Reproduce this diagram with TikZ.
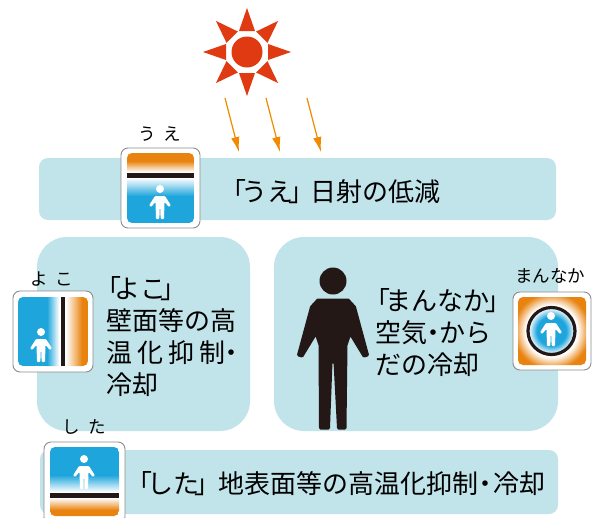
\documentclass[tikz,border=0pt]{standalone}
\usepackage{fontspec}
\setmainfont{Noto Sans CJK JP}
\usetikzlibrary{arrows.meta}
\definecolor{panelblue}{HTML}{C1E3EA}
\definecolor{iconorange}{HTML}{E8830F}
\definecolor{iconblue}{HTML}{1EA5DC}
\definecolor{iconblack}{HTML}{231815}
\definecolor{rayorange}{HTML}{F08A00}
\definecolor{sunred}{HTML}{E03A12}
\pgfdeclareradialshading{ringfade}{\pgfpoint{0bp}{0bp}}{color(0bp)=(white); color(13bp)=(white); color(19bp)=(iconorange); color(50bp)=(iconorange)}
\pgfdeclareradialshading{corefade}{\pgfpoint{0bp}{0bp}}{color(0bp)=(iconblue); color(16bp)=(iconblue); color(25bp)=(white); color(50bp)=(white)}
\newcommand{\smallperson}[2]{
   \fill[white] (#1,#2) circle (4);
   \fill[white,rounded corners=1pt] (#1-5,#2+7) -- (#1+5,#2+7) -- (#1+11,#2+16.5) -- (#1+9,#2+18)
      -- (#1+4.5,#2+13) -- (#1+4,#2+30) -- (#1+.6,#2+30) -- (#1+.3,#2+19) -- (#1-.3,#2+19)
      -- (#1-.6,#2+30) -- (#1-4,#2+30) -- (#1-4.5,#2+13) -- (#1-9,#2+18) -- (#1-11,#2+16.5) -- cycle;
}
\newcommand{\middot}[1]{\makebox[#1pt]{・}}
\tikzset{
   panel/.style={fill=panelblue, draw=none, inner sep=0pt},
   iconframe/.style={draw=gray!90, fill=white, line width=.9pt, rounded corners=7pt, inner sep=0pt, minimum width=78pt, minimum height=80pt},
   maintext/.style={font=\fontsize{26}{32.2}\selectfont, inner sep=0pt, align=left, text=black},
   smalltext/.style={font=\fontsize{17.5}{20}\selectfont, inner sep=0pt, text=black},
   rayarrow/.style={draw=rayorange, line width=1.2pt, -{Latex[length=15pt,width=8.5pt]}}
}
\begin{document}
\begin{tikzpicture}[x=1pt,y=-1pt]
   \clip (0,0) rectangle (597,517);

   \node[panel,minimum width=517pt,minimum height=62pt,rounded corners=9pt] (bandtop) at (297.5,189) {};
   \node[panel,minimum width=213pt,minimum height=194pt,rounded corners=30pt] (panelleft) at (143.5,334) {};
   \node[panel,minimum width=284pt,minimum height=194pt,rounded corners=30pt] (panelright) at (416,334) {};
   \node[panel,minimum width=518pt,minimum height=64pt,rounded corners=9pt] (bandbottom) at (299,482) {};

   % sun
   \fill[sunred] (247,52) circle (15.5);
   \foreach \a in {0,45,...,315}
      \fill[sunred,rotate around={\a:(247,52)}] (247+21,52-8) -- (247+44,52) -- (247+21,52+8) -- cycle;
   \foreach \n/\x in {a/225,b/266,c/307} {
      \coordinate (ray\n start) at (\x,98);
      \coordinate (ray\n end) at (\x+14,152);
      \draw[rayarrow] (ray\n start) -- (ray\n end);
   }

   % top icon
   \node[iconframe,minimum width=79pt] (iconup) at (160.5,188) {};
   \begin{scope}
      \clip[rounded corners=5pt] (127,153) rectangle (194,223);
      \fill[iconorange] (127,153) rectangle (194,161);
      \shade[top color=iconorange,bottom color=white] (127,161) rectangle (194,172);
      \fill[iconblack] (127,172.5) rectangle (194,177.5);
      \shade[top color=white,bottom color=iconblue] (127,178) rectangle (194,196);
      \fill[iconblue] (127,196) rectangle (194,223);
   \end{scope}
   \smallperson{160}{189}

   % left icon
   \node[iconframe,minimum width=80pt,minimum height=81pt] (iconside) at (53,331.5) {};
   \begin{scope}
      \clip[rounded corners=5pt] (18,297) rectangle (88,366);
      \fill[iconblue] (18,297) rectangle (47,366);
      \shade[left color=iconblue,right color=white] (47,297) rectangle (59,366);
      \fill[iconblack] (60.5,297) rectangle (65,366);
      \shade[left color=white,right color=iconorange] (66,297) rectangle (82,366);
      \fill[iconorange] (82,297) rectangle (88,366);
   \end{scope}
   \smallperson{41}{332}

   % right icon
   \node[iconframe,minimum height=78pt] (iconcore) at (552,331) {};
   \begin{scope}
      \clip[rounded corners=5pt] (518,297) rectangle (586,365);
      \shade[shading=ringfade] (551.5,331) circle (50);
   \end{scope}
   \shade[shading=corefade] (551.5,331) circle (23);
   \draw[iconblack,line width=3.2pt] (551.5,331) circle (23.5);
   \smallperson{551}{316}

   % bottom icon
   \node[iconframe,minimum width=81pt,minimum height=82pt] (icondown) at (84.5,483) {};
   \begin{scope}
      \clip[rounded corners=5pt] (50,447) rectangle (119,516);
      \fill[iconblue] (50,447) rectangle (119,475);
      \shade[top color=iconblue,bottom color=white] (50,475) rectangle (119,492);
      \fill[iconblack] (50,493) rectangle (119,497.5);
      \shade[top color=white,bottom color=iconorange] (50,498) rectangle (119,510);
      \fill[iconorange] (50,510) rectangle (119,517);
   \end{scope}
   \smallperson{84}{459}

   % person
   \fill[iconblack] (333,281) circle (13.5);
   \filldraw[iconblack,line width=3pt,line join=round] (318,300) -- (348,300) -- (354.5,307) -- (367.5,355)
      -- (364,356) -- (350,333) -- (346,345) -- (345,428) -- (338.5,428) -- (335,362) -- (331,362)
      -- (328.5,428) -- (320.5,428) -- (320,345) -- (316,333) -- (302,356) -- (298.5,355) -- (311.5,307) -- cycle;

   % labels
   \node[smalltext] (labelup) at (160,134) {う\hspace{8pt}え};
   \node[smalltext] (labelside) at (52,279) {よ\hspace{8pt}こ};
   \node[smalltext] (labelcore) at (550,276) {まんなか};
   \node[smalltext] (labeldown) at (84,427) {し\hspace{9pt}た};
   \node[maintext,anchor=west] (textup) at (220,192) {「\hspace{-5pt}うえ\hspace{-5pt}」\hspace{-3.5pt}日射の低減};
   \node[maintext,anchor=north west] (textside) at (95,276) {「\hspace{-6.5pt}よこ\hspace{-6.5pt}」\\\hspace{11pt}壁面等の高\\\hspace{11pt}温\hspace{5pt}化\hspace{5pt}抑\hspace{5pt}制\hspace{-1pt}\middot{15}\\\hspace{11pt}冷却};
   \node[maintext,anchor=north west] (textcore) at (364,288) {「\hspace{-4.5pt}まんなか\hspace{-4.5pt}」\\\hspace{11pt}空気\middot{12}から\\\hspace{11pt}だの冷却};
   \node[maintext,anchor=west] (textdown) at (126,484) {「\hspace{-5pt}した\hspace{-5pt}」\hspace{-2pt}地表面等の高温化抑制\middot{15}冷却};
\end{tikzpicture}
\end{document}
